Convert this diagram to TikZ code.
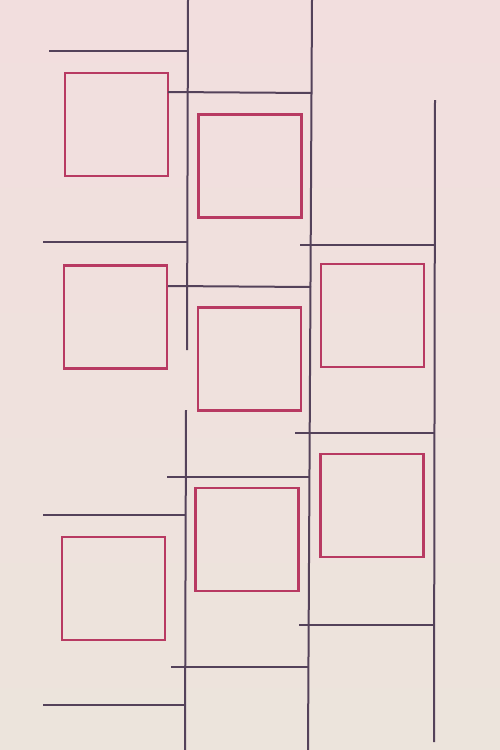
\documentclass[tikz,border=0pt]{standalone}
\begin{document}
\begin{tikzpicture}[x=1pt,y=-1pt,
  bar/.style={draw=linec, line width=2pt},
  sq/.style={draw=sqc, line width=2.8pt, minimum width=103pt, minimum height=103pt, inner sep=0pt, outer sep=0pt}]
\definecolor{linec}{HTML}{54425A}
\definecolor{sqc}{HTML}{B83A62}
\definecolor{bgtop}{HTML}{F2DEDE}
\definecolor{bgbot}{HTML}{ECE4DC}
\shade[top color=bgtop, bottom color=bgbot] (0,0) rectangle (500,750);
\useasboundingbox (0,0) rectangle (500,750);
% squares
\node[sq] (s1) at (116.5,124.5) {};
\node[sq] (s2) at (250,166) {};
\node[sq] (s3) at (115.5,317) {};
\node[sq] (s4) at (249.5,359) {};
\node[sq] (s5) at (372.5,315.5) {};
\node[sq] (s6) at (372,505.5) {};
\node[sq] (s7) at (247,539.5) {};
\node[sq] (s8) at (113.5,588.5) {};
% vertical lines
\draw[bar] (188,0) -- (187,350);
\draw[bar] (186,410) -- (185,750);
\draw[bar] (312,0) -- (308,750);
\draw[bar] (435,100) -- (434,742);
% horizontal lines
\draw[bar] (49,51) -- (188,51);
\draw[bar] (168,92) -- (312,93);
\draw[bar] (43,242) -- (188,242);
\draw[bar] (300,245) -- (435,245);
\draw[bar] (168,286) -- (311,287);
\draw[bar] (295,433) -- (434,433);
\draw[bar] (167,477) -- (309,477);
\draw[bar] (43,515) -- (185,515);
\draw[bar] (299,625) -- (434,625);
\draw[bar] (171,667) -- (308,667);
\draw[bar] (43,705) -- (185,705);
\end{tikzpicture}
\end{document}
